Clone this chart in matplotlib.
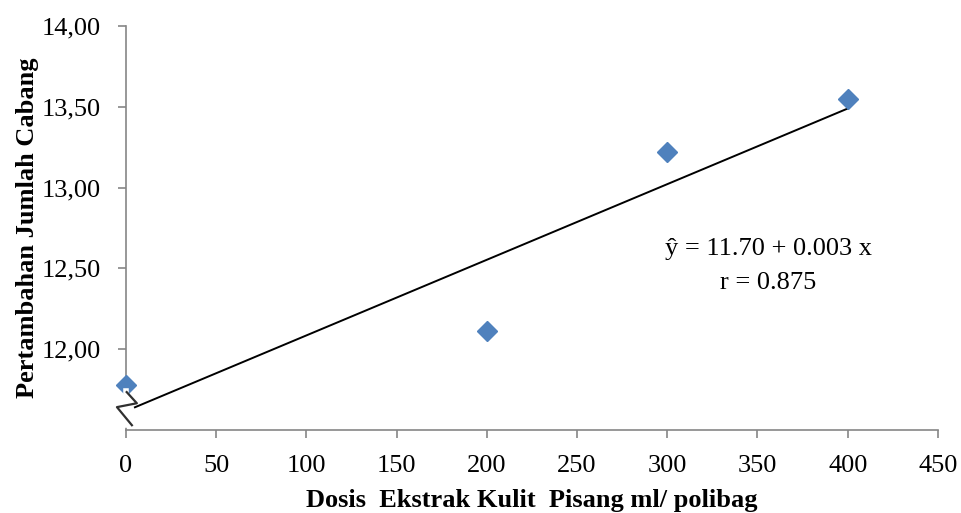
import matplotlib.pyplot as plt
from matplotlib.lines import Line2D

plt.rcParams['font.family'] = ['Liberation Serif', 'DejaVu Serif']

# data
dosis = [0, 200, 300, 400]
cabang = [11.78, 12.11, 13.22, 13.55]
trend_x = [5, 400]
trend_y = [11.64, 13.49]
x_ticks = list(range(0, 451, 50))
y_ticks = [12.0, 12.5, 13.0, 13.5, 14.0]
y_labels = ["12,00", "12,50", "13,00", "13,50", "14,00"]

fig = plt.figure(figsize=(9.61, 5.13), dpi=100)
ax = fig.add_axes([0.131, 0.162, 0.845, 0.787])

ax.plot(trend_x, trend_y, color="black", lw=1.4, zorder=2)
ax.plot(dosis, cabang, linestyle="none", marker="D", markersize=10,
        color="#4F81BD", zorder=3, clip_on=False)

ax.set_xlim(0, 450)
ax.set_ylim(11.5, 14.0)
ax.set_xticks(x_ticks)
ax.set_yticks(y_ticks)
ax.set_yticklabels(y_labels)

for side in ("top", "right"):
    ax.spines[side].set_visible(False)
for side in ("left", "bottom"):
    ax.spines[side].set_color("#868686")
    ax.spines[side].set_linewidth(1.2)
ax.tick_params(axis="both", direction="out", length=6, width=1.2,
               color="#868686", labelsize=19)
ax.tick_params(axis="x", pad=12)
ax.tick_params(axis="y", pad=12)

ax.set_xlabel("Dosis  Ekstrak Kulit  Pisang ml/ polibag", fontsize=19,
              fontweight="bold", labelpad=9)
ax.set_ylabel("Pertambahan Jumlah Cabang", fontsize=19, fontweight="bold",
              labelpad=2)

# axis break on the y axis
tr = ax.get_yaxis_transform()
ax.add_line(Line2D([0, 0], [11.53, 11.74], transform=tr, color="white",
                   lw=4, clip_on=False, zorder=4))
ax.add_line(Line2D([0.001, 0.0135, -0.011, 0.0074],
                   [11.734, 11.665, 11.641, 11.529],
                   transform=tr, color="#303030", lw=1.6, clip_on=False,
                   zorder=5))

ax.text(356, 12.62, "ŷ = 11.70 + 0.003 x", fontsize=19, ha="center",
        va="center")
ax.text(356, 12.41, "r = 0.875", fontsize=19, ha="center", va="center")

fig.savefig("out.png", dpi=100)
